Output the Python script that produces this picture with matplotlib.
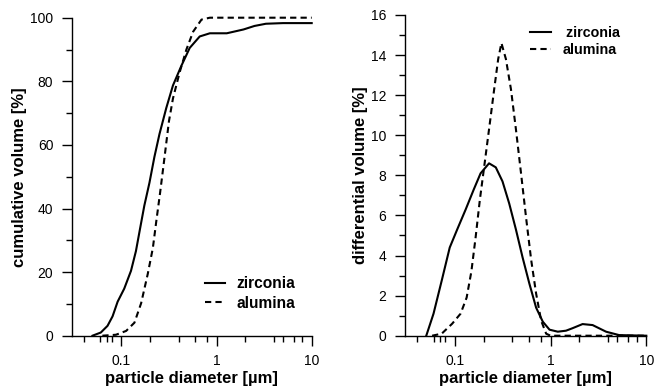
import matplotlib
matplotlib.use("Agg")
import matplotlib.pyplot as plt
from matplotlib.ticker import FixedLocator, NullFormatter, MultipleLocator

plt.rcParams['font.family'] = ['Liberation Sans', 'DejaVu Sans']

# ---- data ----
zc_d = [0.0496, 0.0607, 0.0714, 0.0807, 0.0912, 0.107, 0.126, 0.142, 0.157, 0.174, 0.197,
        0.222, 0.251, 0.296, 0.348, 0.427, 0.522, 0.665, 0.85, 1.28, 1.92, 2.5, 3.3, 5.0, 10.0]
zc_v = [0.0, 1.0, 3.1, 6.1, 10.7, 14.8, 20.4, 26.6, 33.7, 40.9, 48.1,
        56.2, 63.4, 71.6, 78.7, 84.9, 90.5, 94.1, 95.1, 95.1, 96.3, 97.4, 98.1, 98.3, 98.3]

ac_d = [0.063, 0.0875, 0.112, 0.137, 0.161, 0.189, 0.214, 0.232, 0.255, 0.284, 0.316,
        0.348, 0.409, 0.482, 0.567, 0.694, 0.85, 10.0]
ac_v = [0.0, 0.3, 1.5, 4.1, 10.2, 19.4, 27.6, 35.8, 45.0, 56.2, 67.5,
        74.6, 82.8, 90.0, 95.6, 99.4, 100.0, 100.0]

zd_d = [0.0504, 0.060, 0.0735, 0.0886, 0.106, 0.130, 0.158, 0.186, 0.228, 0.268, 0.315,
        0.370, 0.435, 0.511, 0.601, 0.707, 0.83, 0.976, 1.19, 1.45, 1.69, 2.16, 2.75, 3.8,
        5.2, 10.0]
zd_v = [0.0, 1.1, 2.8, 4.4, 5.3, 6.3, 7.3, 8.1, 8.6, 8.4, 7.7,
        6.6, 5.3, 3.9, 2.6, 1.4, 0.7, 0.3, 0.2, 0.25, 0.37, 0.58, 0.53, 0.2,
        0.03, 0.0]

ad_d = [0.058, 0.073, 0.094, 0.115, 0.133, 0.149, 0.165, 0.183, 0.205, 0.228, 0.258,
        0.284, 0.307, 0.342, 0.386, 0.435, 0.492, 0.555, 0.627, 0.707, 0.798, 0.9, 1.0, 10.0]
ad_v = [0.0, 0.1, 0.6, 1.1, 1.9, 3.2, 4.9, 6.8, 8.6, 10.3, 12.3,
        13.8, 14.6, 13.8, 12.3, 10.3, 8.1, 5.9, 3.8, 2.1, 0.75, 0.1, 0.0, 0.0]

x_major = [0.1, 1, 10]
x_major_labels = ["0.1", "1", "10"]
x_minor = [0.04, 0.06, 0.07, 0.08, 0.2, 0.4, 0.6, 0.8, 2, 4, 5, 6.5, 8]

series_labels = ["zirconia", "alumina"]

# ---- figure ----
fig = plt.figure(figsize=(6.65, 3.87), dpi=100)
W, H = 665, 387
ax1 = fig.add_axes([71.7 / W, 1 - 335.7 / H, (311.7 - 71.7) / W, (335.7 - 17.7) / H])
ax2 = fig.add_axes([404.7 / W, 1 - 335.7 / H, (646.3 - 404.7) / W, (335.7 - 15.0) / H])

lw = 1.5
dash = (3, 2)


def style(ax, ylim, ymaj, ymin, ylabel):
    ax.set_xscale('log')
    ax.set_xlim(0.03, 10)
    ax.set_ylim(*ylim)
    for s in ['top', 'right']:
        ax.spines[s].set_visible(False)
    for s in ['left', 'bottom']:
        ax.spines[s].set_linewidth(1.0)
    ax.xaxis.set_major_locator(FixedLocator(x_major))
    ax.set_xticklabels(x_major_labels)
    ax.xaxis.set_minor_locator(FixedLocator(x_minor))
    ax.xaxis.set_minor_formatter(NullFormatter())
    ax.yaxis.set_major_locator(MultipleLocator(ymaj))
    ax.yaxis.set_minor_locator(MultipleLocator(ymin))
    ax.tick_params(which='major', direction='out', length=7.2, width=1.0,
                   labelsize=10, pad=6, colors='black')
    ax.tick_params(which='minor', direction='out', length=4.3, width=1.0)
    ax.set_xlabel("particle diameter [µm]", fontsize=12, fontweight='bold', labelpad=2)
    ax.set_ylabel(ylabel, fontsize=12, fontweight='bold', labelpad=2)


ax1.plot(zc_d, zc_v, color='black', lw=lw, label=series_labels[0], clip_on=False)
ax1.plot(ac_d, ac_v, color='black', lw=lw, linestyle=(0, dash), label=series_labels[1],
         clip_on=False)
style(ax1, (0, 100), 20, 10, "cumulative volume [%]")
ax1.legend(loc='center left', bbox_to_anchor=(0.555, 0.133), frameon=False,
           borderpad=0, borderaxespad=0, handlelength=1.3, handletextpad=0.75,
           labelspacing=0.3, prop={'weight': 'bold', 'size': 11.2})

ax2.plot(zd_d, zd_v, color='black', lw=lw, label=" " + series_labels[0], clip_on=False)
ax2.plot(ad_d, ad_v, color='black', lw=lw, linestyle=(0, dash), label=series_labels[1],
         clip_on=False)
style(ax2, (0, 16), 2, 1, "differential volume [%]")
ax2.legend(loc='center left', bbox_to_anchor=(0.519, 0.917), frameon=False,
           borderpad=0, borderaxespad=0, handlelength=1.45, handletextpad=0.8,
           labelspacing=0.25, prop={'weight': 'bold', 'size': 10.3})

fig.savefig("out.png", dpi=100)
